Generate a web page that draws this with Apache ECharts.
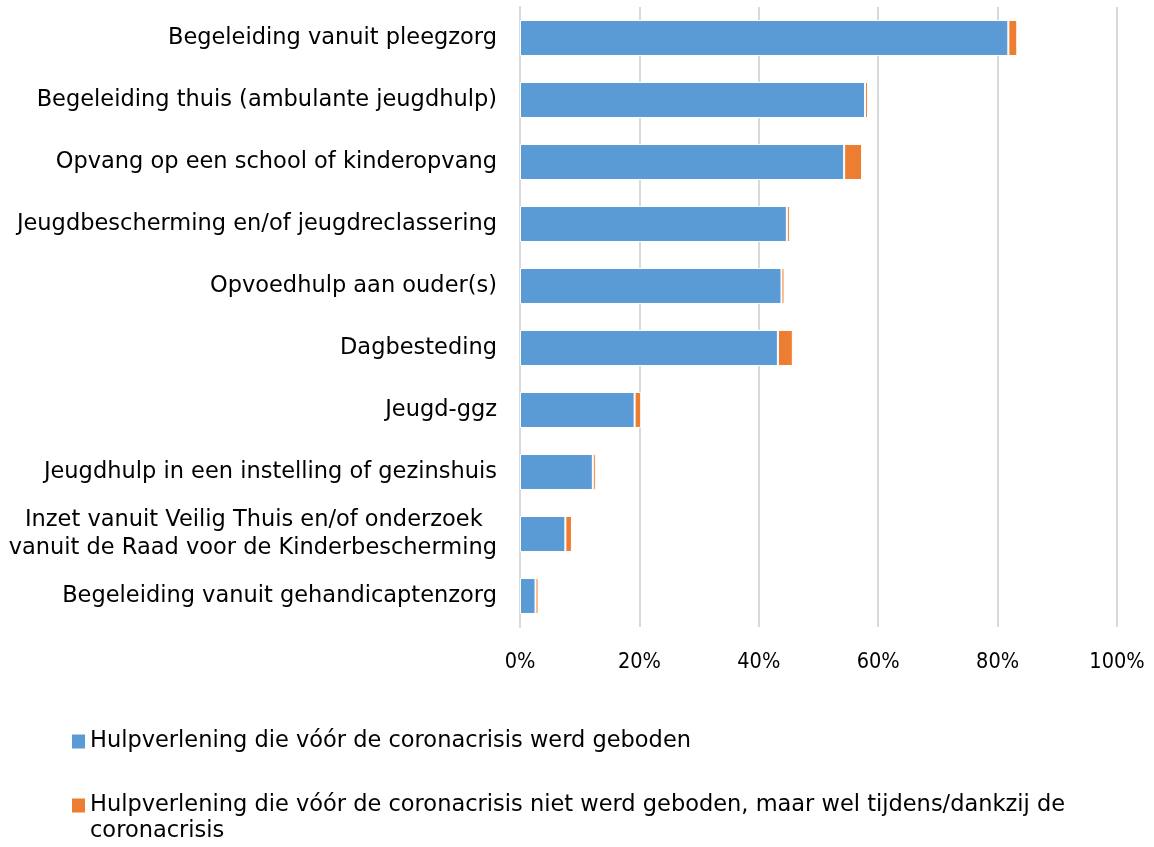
<!DOCTYPE html>
<html><head><meta charset="utf-8">
<script src="https://cdn.jsdelivr.net/npm/echarts@6/dist/echarts.min.js"></script>
<style>html,body{margin:0;padding:0;background:#fff}#c{width:1154px;height:847px}</style>
</head><body><div id="c"></div>
<script>
const categories = [
  "Begeleiding vanuit pleegzorg",
  "Begeleiding thuis (ambulante jeugdhulp)",
  "Opvang op een school of kinderopvang",
  "Jeugdbescherming en/of jeugdreclassering",
  "Opvoedhulp aan ouder(s)",
  "Dagbesteding",
  "Jeugd-ggz",
  "Jeugdhulp in een instelling of gezinshuis",
  "Inzet vanuit Veilig Thuis en/of onderzoek  \nvanuit de Raad voor de Kinderbescherming",
  "Begeleiding vanuit gehandicaptenzorg"
];
const seriesNames = [
  "Hulpverlening die vóór de coronacrisis werd geboden",
  "Hulpverlening die vóór de coronacrisis niet werd geboden, maar wel tijdens/dankzij de coronacrisis"
];
const before = [81.8, 57.8, 54.3, 44.7, 43.8, 43.2, 19.2, 12.2, 7.6, 2.6];
const during = [1.5, 0.5, 3.0, 0.5, 0.5, 2.5, 1.1, 0.5, 1.1, 0.5];
const xTicks = [0, 20, 40, 60, 80, 100];

const chart = echarts.init(document.getElementById('c'));
const font = "DejaVu Sans";
const fs = 22.5;
chart.setOption({
  animation: false,
  grid: {left: 520, right: 37, top: 7, bottom: 220},
  xAxis: {
    type: 'value', min: xTicks[0], max: xTicks[xTicks.length - 1], interval: xTicks[1] - xTicks[0],
    axisLabel: {formatter: v => v + '%', color: '#000', fontFamily: "DejaVu Sans Condensed", fontSize: 21.5, margin: 24},
    splitLine: {lineStyle: {color: '#d9d9d9', width: 2}},
    axisLine: {show: false}, axisTick: {show: false}
  },
  yAxis: {
    type: 'category', inverse: true, data: categories,
    axisLine: {show: true, lineStyle: {color: '#d9d9d9', width: 2}},
    axisTick: {show: false},
    axisLabel: {color: '#000', fontFamily: font, fontSize: fs, margin: 23, lineHeight: 28, align: 'right'}
  },
  legend: {
    orient: 'vertical', left: 72, top: 730, itemGap: 41, padding: 0,
    icon: 'rect', itemWidth: 13, itemHeight: 14,
    itemStyle: {borderWidth: 0},
    textStyle: {color: '#000', fontFamily: font, fontSize: fs},
    formatter: n => n === seriesNames[1] ? n.replace(/ coronacrisis$/, '') : n,
    data: seriesNames
  },
  graphic: [{
    type: 'text', left: 90, top: 820,
    style: {text: 'coronacrisis', font: fs + 'px "DejaVu Sans"', fill: '#000'}
  }],
  series: [
    {name: seriesNames[0], type: 'bar', stack: 's', data: before, barWidth: '58%',
     itemStyle: {color: '#5B9BD5', borderColor: '#fff', borderWidth: 1}},
    {name: seriesNames[1], type: 'bar', stack: 's', data: during, barWidth: '58%',
     itemStyle: {color: '#ED7D31', borderColor: '#fff', borderWidth: 1}}
  ]
});
</script></body></html>
